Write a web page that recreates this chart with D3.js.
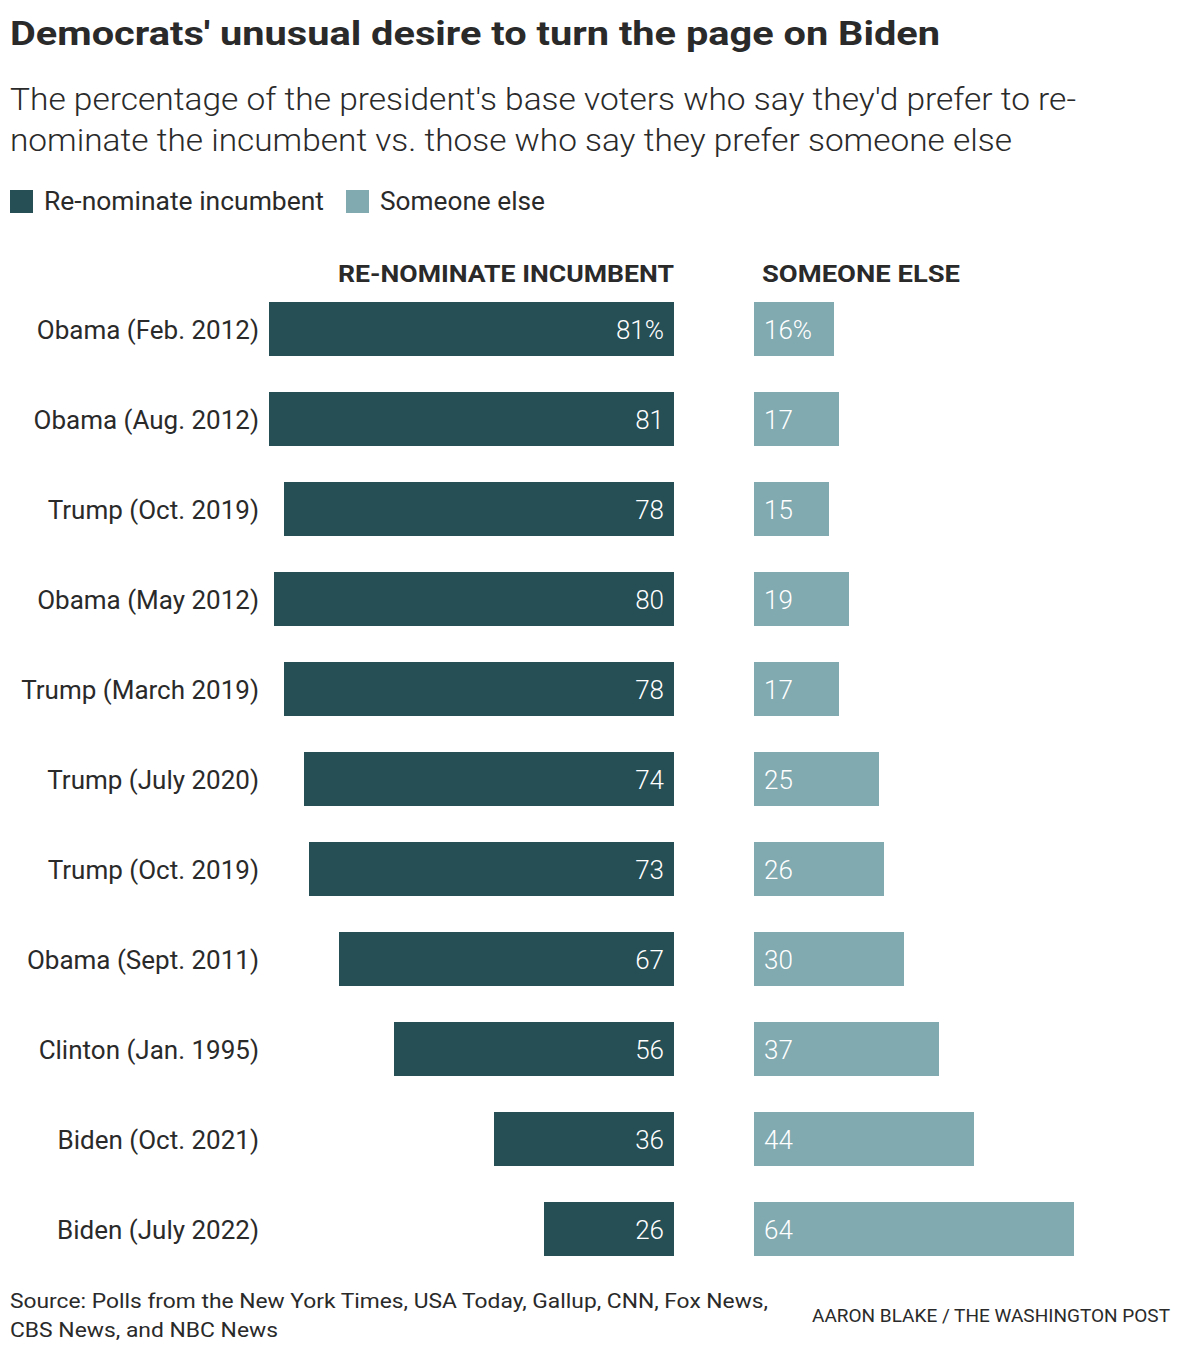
<!DOCTYPE html>
<html><head><meta charset="utf-8">
<script src="https://cdn.jsdelivr.net/npm/d3@7"></script>
<style>body{margin:0;background:#fff;} svg{display:block;}</style>
</head><body>
<script>
const categories = ["Obama (Feb. 2012)","Obama (Aug. 2012)","Trump (Oct. 2019)","Obama (May 2012)","Trump (March 2019)","Trump (July 2020)","Trump (Oct. 2019)","Obama (Sept. 2011)","Clinton (Jan. 1995)","Biden (Oct. 2021)","Biden (July 2022)"];
const renominate = [81,81,78,80,78,74,73,67,56,36,26];
const someoneElse = [16,17,15,19,17,25,26,30,37,44,64];
const seriesNames = ["Re-nominate incumbent","Someone else"];
const colors = ["#264e55","#80a9b0"];

const W=1180,H=1356;
const svg=d3.select("body").append("svg").attr("width",W).attr("height",H);
const font="Roboto, 'Liberation Sans', sans-serif";
const rows=categories.map((c,i)=>({key:i,cat:c,a:renominate[i],b:someoneElse[i]}));

svg.append("text").attr("x",10).attr("y",45).attr("font-family",font).attr("font-weight",700)
 .attr("font-size",33).attr("fill","#2a2a2a").attr("textLength",930).attr("lengthAdjust","spacingAndGlyphs")
 .text("Democrats' unusual desire to turn the page on Biden");
const sub=["The percentage of the president's base voters who say they'd prefer to re-","nominate the incumbent vs. those who say they prefer someone else"];
const subLen=[1066,1002];
sub.forEach((s,i)=>svg.append("text").attr("x",10).attr("y",110+i*41).attr("font-family",font).attr("font-weight",300)
 .attr("font-size",31).attr("fill","#2a2a2a").attr("textLength",subLen[i]).attr("lengthAdjust","spacingAndGlyphs").text(s));

// legend
const legX=[10,346], legLen=[280,165];
seriesNames.forEach((n,i)=>{
  svg.append("rect").attr("x",legX[i]).attr("y",190).attr("width",23).attr("height",23).attr("fill",colors[i]);
  svg.append("text").attr("x",legX[i]+34).attr("y",210).attr("font-family",font).attr("font-size",25)
   .attr("fill","#2a2a2a").attr("textLength",legLen[i]).attr("lengthAdjust","spacingAndGlyphs").text(n);
});

const x=d3.scaleLinear().domain([0,100]).range([0,500]);
const y=d3.scaleBand().domain(rows.map(d=>d.key)).range([284,1274]).paddingInner(0.4).paddingOuter(0.2);
const leftEdge=674, rightStart=754;

svg.append("text").attr("x",leftEdge).attr("y",282).attr("text-anchor","end").attr("font-family",font).attr("font-weight",700)
 .attr("font-size",24).attr("fill","#2a2a2a").attr("textLength",336).attr("lengthAdjust","spacingAndGlyphs").text("RE-NOMINATE INCUMBENT");
svg.append("text").attr("x",762).attr("y",282).attr("font-family",font).attr("font-weight",700)
 .attr("font-size",24).attr("fill","#2a2a2a").attr("textLength",198).attr("lengthAdjust","spacingAndGlyphs").text("SOMEONE ELSE");

const g=svg.append("g");
g.selectAll("rect.a").data(rows).join("rect").attr("class","a")
 .attr("x",d=>leftEdge-x(d.a)).attr("y",d=>y(d.key)).attr("width",d=>x(d.a)).attr("height",y.bandwidth()).attr("fill",colors[0]);
g.selectAll("rect.b").data(rows).join("rect").attr("class","b")
 .attr("x",rightStart).attr("y",d=>y(d.key)).attr("width",d=>x(d.b)).attr("height",y.bandwidth()).attr("fill",colors[1]);

g.selectAll("text.cat").data(rows).join("text").attr("class","cat")
 .attr("x",259).attr("y",d=>y(d.key)+y.bandwidth()/2).attr("dy","0.37em").attr("text-anchor","end")
 .attr("font-family",font).attr("font-size",26).attr("fill","#2a2a2a").text(d=>d.cat);
g.selectAll("text.va").data(rows).join("text").attr("class","va")
 .attr("x",leftEdge-10).attr("y",d=>y(d.key)+y.bandwidth()/2).attr("dy","0.37em").attr("text-anchor","end")
 .attr("font-family",font).attr("font-weight",300).attr("font-size",26).attr("fill","#fff").text((d,i)=>i===0?d.a+"%":d.a);
g.selectAll("text.vb").data(rows).join("text").attr("class","vb")
 .attr("x",rightStart+10).attr("y",d=>y(d.key)+y.bandwidth()/2).attr("dy","0.37em")
 .attr("font-family",font).attr("font-weight",300).attr("font-size",26).attr("fill","#fff").text((d,i)=>i===0?d.b+"%":d.b);

const src=["Source: Polls from the New York Times, USA Today, Gallup, CNN, Fox News,","CBS News, and NBC News"];
const srcLen=[758,268];
src.forEach((s,i)=>svg.append("text").attr("x",10).attr("y",1308+i*29).attr("font-family",font).attr("font-size",21)
 .attr("fill","#2a2a2a").attr("textLength",srcLen[i]).attr("lengthAdjust","spacingAndGlyphs").text(s));
svg.append("text").attr("x",1170).attr("y",1322).attr("text-anchor","end").attr("font-family",font).attr("font-size",19)
 .attr("fill","#2a2a2a").attr("textLength",358).attr("lengthAdjust","spacingAndGlyphs").text("AARON BLAKE / THE WASHINGTON POST");
</script>
</body></html>
